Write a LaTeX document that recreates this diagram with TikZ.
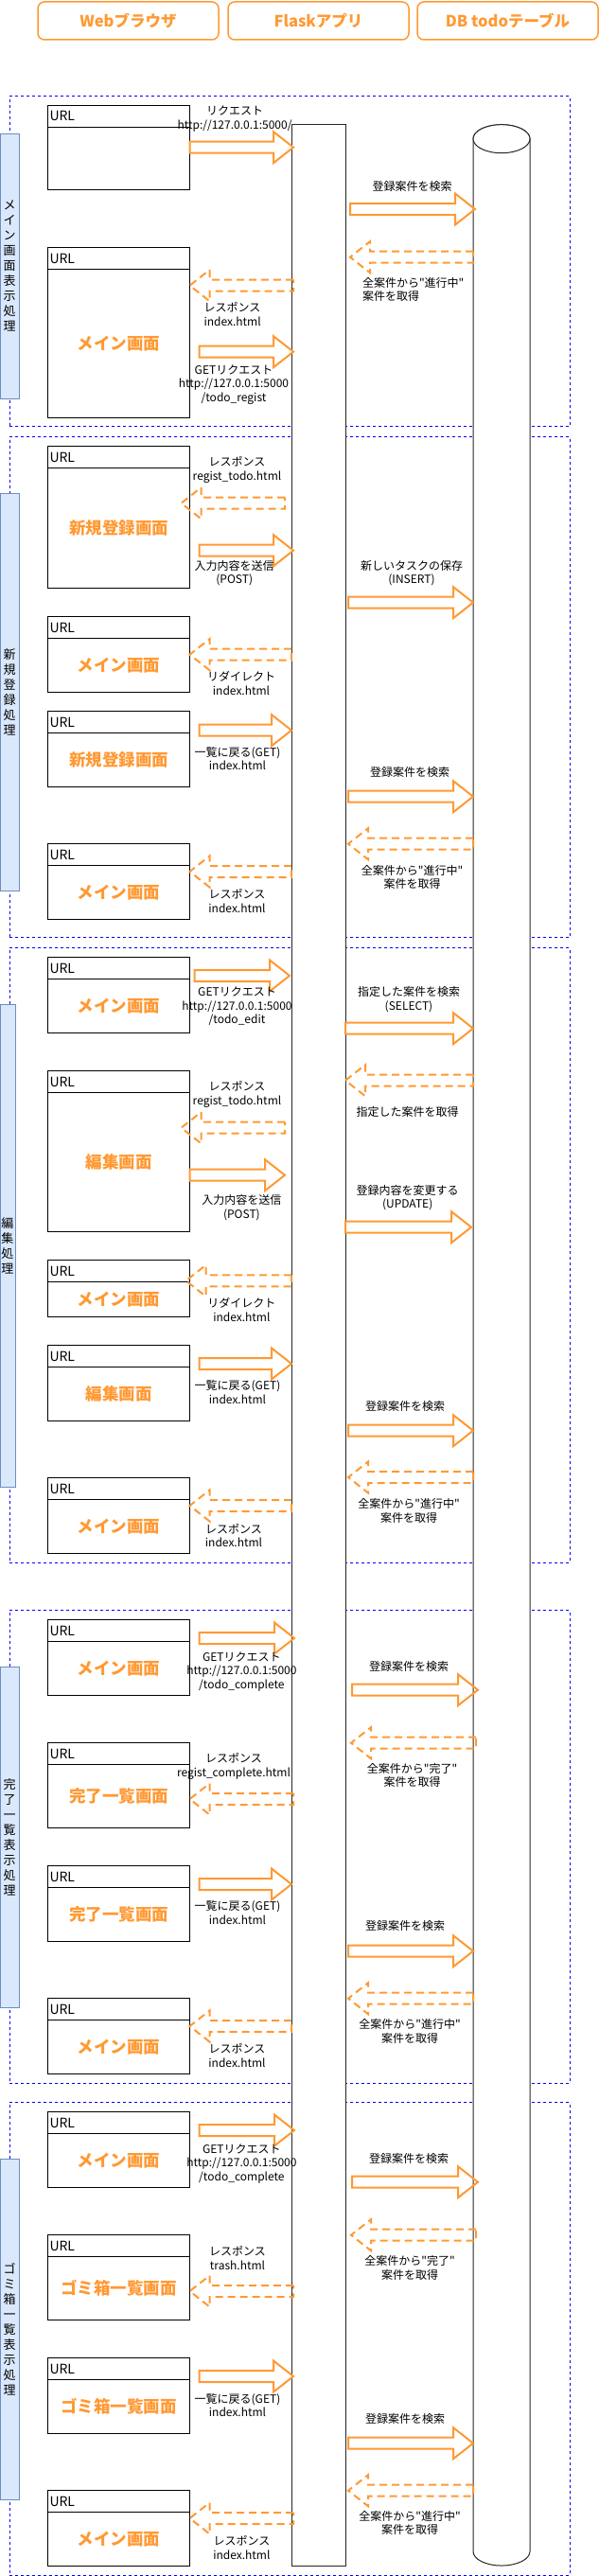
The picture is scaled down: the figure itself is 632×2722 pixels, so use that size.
\documentclass[tikz,border=0pt]{standalone}
\usepackage{fontspec}
\setmainfont{Noto Sans CJK JP}[Ligatures=TeXOff]
\usetikzlibrary{positioning, calc}
\definecolor{flaskorange}{HTML}{FF9933}
\definecolor{lanefill}{HTML}{DAE8FC}
\definecolor{laneline}{HTML}{6C8EBF}

\begin{document}
\begin{tikzpicture}[
			x=1pt, y=-1pt,
			every node/.style={outer sep=0pt},
			title/.style={rectangle, draw=flaskorange, line width=1.5pt, rounded corners=7pt, minimum width=191pt, minimum height=40pt, text=flaskorange, font=\fontsize{16.5}{20}\selectfont\bfseries},
			lane/.style={rectangle, draw=blue, line width=0.9pt, dash pattern=on 3pt off 3pt, minimum width=592pt},
			tag/.style={rectangle, draw=laneline, line width=1pt, fill=lanefill, minimum width=20pt, inner sep=0pt, align=center, font=\fontsize{13}{16}\selectfont},
			urlbar/.style={rectangle, draw, line width=1pt, fill=white, minimum width=150pt, minimum height=23pt, text width=146pt, inner xsep=2pt, align=left, font=\fontsize{14}{16}\selectfont},
			screen/.style={rectangle, draw, line width=1pt, fill=white, minimum width=150pt, text=flaskorange, font=\fontsize{17.5}{20}\selectfont\bfseries},
			life/.style={draw=black!85, line width=1pt, fill=white},
			msg/.style={align=center, inner sep=1pt, font=\fontsize{12}{14.5}\selectfont},
			flow/.style={to path={let \p1=(\tikztostart), \p2=(\tikztotarget), \p3=($(\p2)!21pt!(\p1)$) in
				({\x1},{\y1+6pt}) -- ({\x3},{\y1+6pt}) -- ({\x3},{\y1+16.5pt}) -- ({\x2},{\y1}) -- ({\x3},{\y1-16.5pt}) -- ({\x3},{\y1-6pt}) -- ({\x1},{\y1-6pt}) -- cycle}},
			go/.style={flow, draw=flaskorange, line width=2pt},
			back/.style={go, dash pattern=on 8pt off 5pt}
			]
			\useasboundingbox (0,0) rectangle (632,2722);

			% lanes
			\node[lane, minimum height=349pt] (sec1) at (306,276.2) {};
			\node[lane, minimum height=529pt] (sec2) at (306,726.2) {};
			\node[lane, minimum height=649.3pt] (sec3) at (306,1326.35) {};
			\node[lane, minimum height=499.3pt] (sec4) at (306,1951.35) {};
			\node[lane, minimum height=499.3pt] (sec5) at (306,2471.35) {};

			% lifelines
			\node[life, minimum width=57pt, minimum height=2579.3pt] (flask) at (336.5,1421.35) {};
			\node[minimum width=60pt, minimum height=2579.3pt] (db) at (530,1421.35) {};
			\draw[life] ([yshift=-15pt]db.north west) -- ([yshift=15pt]db.south west)
				arc[start angle=180, end angle=360, x radius=30pt, y radius=15pt]
				-- ([yshift=-15pt]db.north east)
				arc[start angle=0, end angle=180, x radius=30pt, y radius=15pt] -- cycle;
			\draw[life] ([yshift=-15pt]db.north) ellipse[x radius=30pt, y radius=15pt];

			% headers
			\node[title] (web) at (135.5,22) {Webブラウザ};
			\node[title, right=10pt of web] (app) {Flaskアプリ};
			\node[title, right=9pt of app] (tbl) {DB todoテーブル};

			\node[tag, minimum height=280pt] (tag1) at (10,281) {メ\\イ\\ン\\画\\面\\表\\示\\処\\理};
			\node[tag, minimum height=419.3pt] (tag2) at (10,731.35) {新\\規\\登\\録\\処\\理};
			\node[tag, minimum width=16pt, minimum height=510pt] (tag3) at (8,1316.7) {編\\集\\処\\理};
			\node[tag, minimum height=359.3pt] (tag4) at (10,1941.35) {完\\了\\一\\覧\\表\\示\\処\\理};
			\node[tag, minimum height=359.3pt] (tag5) at (10,2461.35) {ゴ\\ミ\\箱\\一\\覧\\表\\示\\処\\理};

			% screens
			\node[urlbar] (u1h) at (125.5,122.5) {URL};
			\node[screen, minimum height=66.3pt, below=0pt of u1h] (u1) {};
			\node[urlbar] (u2h) at (125.5,273.2) {URL};
			\node[screen, minimum height=156.3pt, below=0pt of u2h] (u2) {メイン画面};
			\node[urlbar] (u3h) at (125.5,483.2) {URL};
			\node[screen, minimum height=126.3pt, below=0pt of u3h] (u3) {新規登録画面};
			\node[urlbar] (u4h) at (125.5,663.2) {URL};
			\node[screen, minimum height=56.3pt, below=0pt of u4h] (u4) {メイン画面};
			\node[urlbar] (u5h) at (125.5,763.2) {URL};
			\node[screen, minimum height=56.3pt, below=0pt of u5h] (u5) {新規登録画面};
			\node[urlbar] (u6h) at (125.5,903.2) {URL};
			\node[screen, minimum height=56.3pt, below=0pt of u6h] (u6) {メイン画面};
			\node[urlbar] (u7h) at (125.5,1023.2) {URL};
			\node[screen, minimum height=56.3pt, below=0pt of u7h] (u7) {メイン画面};
			\node[urlbar] (u8h) at (125.5,1143.2) {URL};
			\node[screen, minimum height=146.3pt, below=0pt of u8h] (u8) {編集画面};
			\node[urlbar] (u9h) at (125.5,1343.2) {URL};
			\node[screen, minimum height=36.3pt, below=0pt of u9h] (u9) {メイン画面};
			\node[urlbar] (u10h) at (125.5,1433.2) {URL};
			\node[screen, minimum height=56.3pt, below=0pt of u10h] (u10) {編集画面};
			\node[urlbar] (u11h) at (125.5,1573.2) {URL};
			\node[screen, minimum height=56.3pt, below=0pt of u11h] (u11) {メイン画面};
			\node[urlbar] (u12h) at (125.5,1723.2) {URL};
			\node[screen, minimum height=56.3pt, below=0pt of u12h] (u12) {メイン画面};
			\node[urlbar] (u13h) at (125.5,1853.2) {URL};
			\node[screen, minimum height=66.3pt, below=0pt of u13h] (u13) {完了一覧画面};
			\node[urlbar] (u14h) at (125.5,1983.2) {URL};
			\node[screen, minimum height=56.3pt, below=0pt of u14h] (u14) {完了一覧画面};
			\node[urlbar] (u15h) at (125.5,2123.2) {URL};
			\node[screen, minimum height=56.3pt, below=0pt of u15h] (u15) {メイン画面};
			\node[urlbar] (u16h) at (125.5,2243.2) {URL};
			\node[screen, minimum height=56.3pt, below=0pt of u16h] (u16) {メイン画面};
			\node[urlbar] (u17h) at (125.5,2373.2) {URL};
			\node[screen, minimum height=66.3pt, below=0pt of u17h] (u17) {ゴミ箱一覧画面};
			\node[urlbar] (u18h) at (125.5,2503.2) {URL};
			\node[screen, minimum height=56.3pt, below=0pt of u18h] (u18) {ゴミ箱一覧画面};
			\node[urlbar] (u19h) at (125.5,2643.2) {URL};
			\node[screen, minimum height=56.3pt, below=0pt of u19h] (u19) {メイン画面};

			% main screen
			\draw[go] (u1.east |- 0,155.7) to ($(flask.west |- 0,155.7)+(2,0)$);
			\node[msg] (m1) at (248,125.5) {リクエスト\\http://127.0.0.1:5000/};
			\draw[go] ($(flask.east |- 0,221)+(5,0)$) to ($(db.west |- 0,221)+(2,0)$);
			\node[msg] (m2) at (435.6,196.7) {登録案件を検索};
			\draw[back] (db.west |- 0,271.7) to ($(flask.east |- 0,271.7)+(5,0)$);
			\node[msg, anchor=west, align=left] (m3) at (382,306) {全案件から"進行中"\\案件を取得};
			\draw[back] ($(flask.west |- 0,301.7)+(2,0)$) to (u2.east |- 0,301.7);
			\node[msg] (m4) at (245.6,332.2) {レスポンス\\index.html};
			\draw[go] ($(u2.east |- 0,371.7)+(10,0)$) to ($(flask.west |- 0,371.7)+(2,0)$);
			\node[msg] (m5) at (247,406.5) {GETリクエスト\\http://127.0.0.1:5000\\/todo\_regist};

			% new entry
			\node[msg] (m6) at (250.5,496.2) {レスポンス\\regist\_todo.html};
			\draw[back] ($(flask.west |- 0,531.7)+(-7,0)$) to ($(u3.east |- 0,531.7)+(-9,0)$);
			\draw[go] ($(u3.east |- 0,581.7)+(10,0)$) to ($(flask.west |- 0,581.7)+(2,0)$);
			\node[msg] (m7) at (247.7,605.8) {入力内容を送信\\(POST)};
			\draw[go] ($(flask.east |- 0,636.7)+(3,0)$) to (db.west |- 0,636.7);
			\node[msg] (m8) at (435,605.8) {新しいタスクの保存\\(INSERT)};
			\draw[back] (flask.west |- 0,691.7) to (u4.east |- 0,691.7);
			\node[msg] (m9) at (255,722.2) {リダイレクト\\index.html};
			\draw[go] ($(u5.east |- 0,771.7)+(10,0)$) to (flask.west |- 0,771.7);
			\node[msg] (m10) at (251,801.7) {一覧に戻る(GET)\\index.html};
			\draw[go] ($(flask.east |- 0,841.7)+(3,0)$) to (db.west |- 0,841.7);
			\node[msg] (m11) at (433,816) {登録案件を検索};
			\draw[back] (db.west |- 0,891.7) to ($(flask.east |- 0,891.7)+(3,0)$);
			\node[msg] (m12) at (435.5,926.7) {全案件から"進行中"\\案件を取得};
			\draw[back] (flask.west |- 0,921) to (u6.east |- 0,921);
			\node[msg] (m13) at (250.5,952) {レスポンス\\index.html};

			% edit
			\draw[go] ($(u7.east |- 0,1031)+(5,0)$) to ($(flask.west |- 0,1031)+(-2,0)$);
			\node[msg] (m14) at (250.5,1063.6) {GETリクエスト\\http://127.0.0.1:5000\\/todo\_edit};
			\draw[go] (flask.east |- 0,1086.7) to (db.west |- 0,1086.7);
			\node[msg] (m15) at (432,1056.2) {指定した案件を検索\\(SELECT)};
			\draw[back] (db.west |- 0,1141.7) to (flask.east |- 0,1141.7);
			\node[msg] (m16) at (430.7,1175) {指定した案件を取得};
			\node[msg] (m17) at (250.5,1156.2) {レスポンス\\regist\_todo.html};
			\draw[back] ($(flask.west |- 0,1191.7)+(-7,0)$) to ($(u8.east |- 0,1191.7)+(-9,0)$);
			\draw[go] (u8.east |- 0,1241.7) to ($(flask.west |- 0,1241.7)+(-7,0)$);
			\node[msg] (m18) at (255.4,1276.2) {入力内容を送信\\(POST)};
			\draw[go] (flask.east |- 0,1296.7) to ($(db.west |- 0,1296.7)+(-2,0)$);
			\node[msg] (m19) at (430.7,1265.8) {登録内容を変更する\\(UPDATE)};
			\draw[back] (flask.west |- 0,1353.3) to ($(u9.east |- 0,1353.3)+(-4,0)$);
			\node[msg] (m20) at (255.4,1384.2) {リダイレクト\\index.html};
			\draw[go] ($(u10.east |- 0,1441)+(10,0)$) to (flask.west |- 0,1441);
			\node[msg] (m21) at (251,1470.8) {一覧に戻る(GET)\\index.html};
			\draw[go] ($(flask.east |- 0,1511.7)+(3,0)$) to (db.west |- 0,1511.7);
			\node[msg] (m22) at (428,1485.7) {登録案件を検索};
			\draw[back] (db.west |- 0,1561) to ($(flask.east |- 0,1561)+(3,0)$);
			\node[msg] (m23) at (432,1596.2) {全案件から"進行中"\\案件を取得};
			\draw[back] (flask.west |- 0,1591) to (u11.east |- 0,1591);
			\node[msg] (m24) at (247,1622.5) {レスポンス\\index.html};

			% done list
			\draw[go] ($(u12.east |- 0,1731)+(10,0)$) to ($(flask.west |- 0,1731)+(3,0)$);
			\node[msg] (m25) at (255.4,1766.4) {GETリクエスト\\http://127.0.0.1:5000\\/todo\_complete};
			\draw[go] ($(flask.east |- 0,1785.7)+(7,0)$) to ($(db.west |- 0,1785.7)+(5,0)$);
			\node[msg] (m26) at (432,1760.7) {登録案件を検索};
			\draw[back] ($(db.west |- 0,1841.7)+(3,0)$) to ($(flask.east |- 0,1841.7)+(6,0)$);
			\node[msg] (m27) at (435.5,1875.8) {全案件から"完了"\\案件を取得};
			\node[msg] (m28) at (247,1866.2) {レスポンス\\regist\_complete.html};
			\draw[back] ($(flask.west |- 0,1901)+(2,0)$) to (u13.east |- 0,1901);
			\draw[go] ($(u14.east |- 0,1991)+(10,0)$) to (flask.west |- 0,1991);
			\node[msg] (m29) at (251,2021.2) {一覧に戻る(GET)\\index.html};
			\draw[go] ($(flask.east |- 0,2061.7)+(3,0)$) to (db.west |- 0,2061.7);
			\node[msg] (m30) at (428,2035) {登録案件を検索};
			\draw[back] (db.west |- 0,2111.7) to ($(flask.east |- 0,2111.7)+(3,0)$);
			\node[msg] (m31) at (433,2146.5) {全案件から"進行中"\\案件を取得};
			\draw[back] (flask.west |- 0,2141) to (u15.east |- 0,2141);
			\node[msg] (m32) at (250.5,2172.2) {レスポンス\\index.html};

			% trash list
			\draw[go] ($(u16.east |- 0,2251)+(10,0)$) to ($(flask.west |- 0,2251)+(3,0)$);
			\node[msg] (m33) at (255.4,2286.4) {GETリクエスト\\http://127.0.0.1:5000\\/todo\_complete};
			\draw[go] ($(flask.east |- 0,2305.7)+(7,0)$) to ($(db.west |- 0,2305.7)+(5,0)$);
			\node[msg] (m34) at (432,2280.7) {登録案件を検索};
			\draw[back] ($(db.west |- 0,2361.7)+(3,0)$) to ($(flask.east |- 0,2361.7)+(6,0)$);
			\node[msg] (m35) at (433,2396.2) {全案件から"完了"\\案件を取得};
			\node[msg] (m36) at (251,2386.2) {レスポンス\\trash.html};
			\draw[back] ($(flask.west |- 0,2421)+(2,0)$) to (u17.east |- 0,2421);
			\draw[go] ($(u18.east |- 0,2511)+(10,0)$) to ($(flask.west |- 0,2511)+(2,0)$);
			\node[msg] (m37) at (251,2541.7) {一覧に戻る(GET)\\index.html};
			\draw[go] ($(flask.east |- 0,2581.7)+(3,0)$) to (db.west |- 0,2581.7);
			\node[msg] (m38) at (428,2556) {登録案件を検索};
			\draw[back] (db.west |- 0,2631.7) to ($(flask.east |- 0,2631.7)+(3,0)$);
			\node[msg] (m39) at (433,2665.8) {全案件から"進行中"\\案件を取得};
			\draw[back] ($(flask.west |- 0,2661)+(2,0)$) to (u19.east |- 0,2661);
			\node[msg] (m40) at (255.4,2691.8) {レスポンス\\index.html};

		\end{tikzpicture}
\end{document}
